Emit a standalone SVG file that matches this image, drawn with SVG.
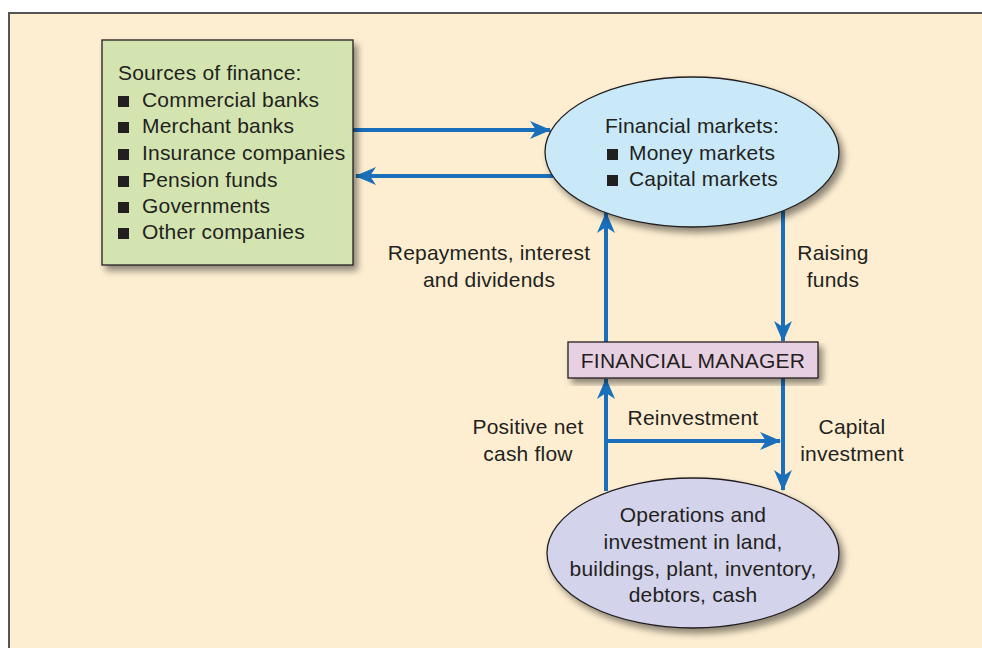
<svg xmlns="http://www.w3.org/2000/svg" width="982" height="648" viewBox="0 0 982 648">
<defs>
<style>
text{font-family:"Liberation Sans",Arial,sans-serif;font-size:21px;letter-spacing:0.2px;fill:#231f20}
.c{text-anchor:middle}
.ln{stroke:#1a6fba;stroke-width:4;fill:none}
.sh{stroke:#231f20;stroke-width:1.3}
</style>
<marker id="ah" markerUnits="userSpaceOnUse" markerWidth="24" markerHeight="20" refX="20" refY="9" orient="auto">
<path d="M0,0 L21,9 L0,18 L6,9 Z" fill="#1a6fba"/>
</marker>
<filter id="ds" x="-10%" y="-10%" width="130%" height="130%">
<feGaussianBlur in="SourceAlpha" stdDeviation="3.5"/>
<feOffset dx="4" dy="5" result="b"/>
<feComponentTransfer><feFuncA type="linear" slope="0.45"/></feComponentTransfer>
<feMerge><feMergeNode/><feMergeNode in="SourceGraphic"/></feMerge>
</filter>
</defs>
<rect width="982" height="648" fill="#ffffff"/>
<rect x="9" y="13" width="980" height="640" fill="#fdeed1" stroke="#555" stroke-width="2"/>

<g id="connectors">
<line class="ln" x1="353" y1="130" x2="550" y2="130" marker-end="url(#ah)"/>
<line class="ln" x1="553" y1="176" x2="356" y2="176" marker-end="url(#ah)"/>
<line class="ln" x1="606" y1="342" x2="606" y2="213" marker-end="url(#ah)"/>
<line class="ln" x1="783" y1="210" x2="783" y2="341" marker-end="url(#ah)"/>
<line class="ln" x1="606" y1="491" x2="606" y2="379" marker-end="url(#ah)"/>
<line class="ln" x1="783" y1="378" x2="783" y2="490" marker-end="url(#ah)"/>
<line class="ln" x1="606" y1="441" x2="780" y2="441" marker-end="url(#ah)"/>
</g>

<g id="sources">
<rect x="102" y="40" width="251" height="225" fill="#d3e4b1" class="sh" filter="url(#ds)"/>
<text x="118" y="80">Sources of finance:</text>
<g fill="#231f20">
<rect x="118" y="96" width="11" height="11"/>
<rect x="118" y="122" width="11" height="11"/>
<rect x="118" y="149" width="11" height="11"/>
<rect x="118" y="176" width="11" height="11"/>
<rect x="118" y="202" width="11" height="11"/>
<rect x="118" y="228" width="11" height="11"/>
</g>
<text x="142" y="107">Commercial banks</text>
<text x="142" y="133">Merchant banks</text>
<text x="142" y="160">Insurance companies</text>
<text x="142" y="187">Pension funds</text>
<text x="142" y="213">Governments</text>
<text x="142" y="239">Other companies</text>
</g>

<g id="markets">
<ellipse cx="692" cy="152" rx="147" ry="75" fill="#c9e9f8" class="sh" filter="url(#ds)"/>
<text x="605" y="133">Financial markets:</text>
<rect x="607" y="149" width="11" height="11" fill="#231f20"/>
<rect x="607" y="175" width="11" height="11" fill="#231f20"/>
<text x="629" y="160">Money markets</text>
<text x="629" y="186">Capital markets</text>
</g>

<g id="manager">
<rect x="568" y="342" width="250" height="36" fill="#e8d0e3" class="sh" filter="url(#ds)"/>
<text class="c" x="693" y="368">FINANCIAL MANAGER</text>
</g>

<g id="operations">
<ellipse cx="693" cy="553" rx="146" ry="75" fill="#d3d3eb" class="sh" filter="url(#ds)"/>
<text class="c" x="693" y="522">Operations and</text>
<text class="c" x="693" y="549">investment in land,</text>
<text class="c" x="693" y="576">buildings, plant, inventory,</text>
<text class="c" x="693" y="602">debtors, cash</text>
</g>

<g id="labels">
<text class="c" x="489" y="260">Repayments, interest</text>
<text class="c" x="489" y="287">and dividends</text>
<text class="c" x="833" y="260">Raising</text>
<text class="c" x="833" y="287">funds</text>
<text class="c" x="693" y="425">Reinvestment</text>
<text class="c" x="528" y="434">Positive net</text>
<text class="c" x="528" y="461">cash flow</text>
<text class="c" x="852" y="434">Capital</text>
<text class="c" x="852" y="461">investment</text>
</g>
</svg>
